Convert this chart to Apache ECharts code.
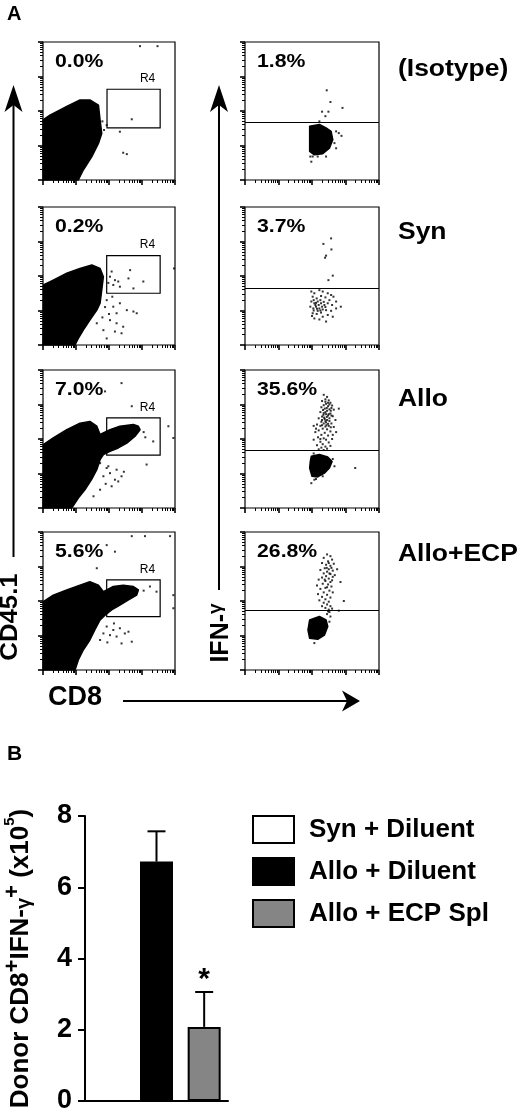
<!DOCTYPE html>
<html><head><meta charset="utf-8">
<script src="https://cdn.jsdelivr.net/npm/echarts@6/dist/echarts.min.js"></script>
<style>html,body{margin:0;padding:0;background:#fff}#c{width:520px;height:1115px}</style>
</head><body><div id="c"></div>
<script>
// ---------- Panel A: flow cytometry (axes in log10 units, 10^0..10^4) ----------
const rowNames = ['(Isotype)', 'Syn', 'Allo', 'Allo+ECP'];
const cd45Pct = ['0.0%', '0.2%', '7.0%', '5.6%'];
const ifnPct = ['1.8%', '3.7%', '35.6%', '26.8%'];
// R4 gate: [xMin, xMax, yMin, yMax]
const gateR4 = [[1.94, 3.55, 1.51, 2.63], [1.93, 3.55, 1.50, 2.59], [1.93, 3.55, 1.53, 2.61], [1.93, 3.55, 1.55, 2.61]];
const ifnCutoff = [1.67, 1.64, 1.66, 1.72];

const isoCd45Blob = [[0,0],[0,1.74],[0.21,1.88],[0.72,2.13],[1.12,2.32],[1.42,2.32],[1.68,2.17],[1.73,1.74],[1.78,1.35],[1.68,1.06],[1.48,0.68],[1.22,0.29],[1.07,0]];
const isoCd45Dots = [[2.94,3.88],[3.47,3.88],[2.69,1.76],[2.33,1.40],[2.43,0.79],[2.54,0.75],[1.93,1.59],[1.80,1.70],[1.85,1.45]];

const synCd45Blob = [[0,0],[0.01,1.74],[0.31,1.88],[0.72,2.08],[1.12,2.22],[1.48,2.32],[1.73,2.22],[1.83,1.98],[1.78,1.59],[1.73,1.21],[1.63,1.01],[1.42,0.72],[1.22,0.43],[1.07,0.19],[0.97,0]];
const synCd45Dots = [[1.93,1.30],[2.13,1.11],[2.23,0.92],[2.33,1.21],[2.54,1.01],[2.74,0.97],[2.84,0.92],[2.03,0.72],[2.23,0.63],[2.43,0.53],[1.83,0.43],[2.18,0.39],[2.38,0.34],[1.93,0.19],[1.63,0.63],[1.88,1.10],[2.00,0.90],[1.80,0.80],[2.10,1.40],
  [2.03,1.98],[2.18,1.88],[2.28,1.84],[2.13,1.74],[2.33,1.69],[2.64,2.17],[2.59,1.93],[2.74,1.64],[3.04,1.84],[2.08,2.13],[1.98,1.80],[3.97,2.22]];

const alloCd45Blob = [[0,0],[0.01,1.84],[0.31,2.03],[0.72,2.27],[1.12,2.46],[1.42,2.51],[1.63,2.37],[1.73,2.13],[2.03,2.27],[2.33,2.37],[2.74,2.42],[2.89,2.37],[2.94,2.27],[2.79,2.08],[2.54,1.88],[2.28,1.74],[2.03,1.64],[1.83,1.55],[1.73,1.40],[1.63,1.11],[1.47,0.82],[1.27,0.53],[1.07,0.29],[0.87,0]];
const alloCd45Dots = [[2.38,3.62],[1.88,3.38],[2.69,2.95],[3.14,1.26],[3.34,1.93],[3.95,2.03],[3.80,2.37],[3.05,2.20],[3.10,2.05],
  [1.73,1.30],[1.93,1.16],[2.03,1.01],[1.83,0.92],[2.18,0.82],[2.08,0.63],[2.28,0.77],[1.73,0.53],[1.53,0.34],[1.98,1.21],[2.23,1.11],[2.38,0.92],[1.90,0.70],[2.45,1.05]];

const ecpCd45Blob = [[0,0],[0.01,1.98],[0.31,2.17],[0.72,2.32],[1.12,2.46],[1.42,2.56],[1.68,2.46],[1.83,2.27],[2.13,2.42],[2.43,2.46],[2.74,2.42],[2.89,2.32],[2.84,2.17],[2.59,2.03],[2.33,1.88],[2.08,1.74],[1.88,1.59],[1.73,1.45],[1.57,1.16],[1.42,0.87],[1.22,0.58],[1.07,0.29],[0.97,0]];
const ecpCd45Dots = [[2.69,3.88],[3.09,3.88],[3.85,3.88],[1.93,3.62],[2.18,3.43],[1.63,2.95],[3.95,2.17],[3.44,2.27],[3.24,2.42],[3.95,1.79],[3.05,2.30],
  [1.93,1.26],[2.13,1.16],[2.33,1.21],[2.48,1.06],[2.59,1.11],[2.23,0.97],[2.03,1.01],[2.69,0.82],[2.38,0.77],[1.83,1.06],[1.73,0.87],[2.15,1.35],[1.95,0.80]];

const isoIfnBlob = [[1.93,1.56],[2.22,1.61],[2.42,1.51],[2.57,1.41],[2.62,1.17],[2.52,0.92],[2.32,0.76],[2.07,0.73],[1.93,0.83]];
const isoIfnDots = [[2.72,1.41],[2.80,1.36],[2.88,1.28],[2.67,1.07],[2.72,0.92],[2.42,0.68],[1.98,0.53],[2.02,0.68],[1.95,0.68],[2.17,0.68],
  [2.44,2.60],[2.55,2.26],[2.91,2.09],[2.30,1.98],[2.49,1.98],[2.40,1.85],[2.22,1.70]];

const synIfnBlob = [];
const synIfnDots = [[2.57,3.09],[2.34,2.93],[2.58,2.77],[2.42,2.59],[2.39,2.53],[2.49,1.88],[2.62,2.01],
  [1.98,1.55],[2.07,1.50],[2.22,1.59],[2.32,1.55],[2.47,1.50],[2.57,1.45],[2.64,1.40],[2.02,1.40],[2.14,1.35],[2.27,1.42],[2.40,1.38],[2.52,1.30],[2.72,1.26],[2.86,1.11],
  [1.98,1.26],[2.07,1.21],[2.17,1.26],[2.27,1.21],[2.37,1.16],[2.47,1.21],[2.60,1.16],[2.72,1.06],[1.95,1.11],[2.04,1.06],[2.12,1.11],[2.22,1.06],[2.32,1.03],[2.42,1.01],[2.57,0.99],
  [2.02,0.92],[2.14,0.90],[2.27,0.94],[2.47,0.87],[2.62,0.82],[2.07,0.77],[2.22,0.74],[2.42,0.68],[2.00,0.84],[2.32,0.82],[2.17,0.99],[2.10,1.16],[2.20,1.16],[2.30,1.11],
  [2.05,1.30],[2.12,1.22],[2.25,1.30],[2.35,1.25],[2.15,1.05],[2.05,1.00],[2.25,1.00],[2.40,1.10]];

const alloIfnBlob = [[1.98,1.50],[2.22,1.55],[2.47,1.48],[2.60,1.35],[2.52,1.16],[2.37,1.01],[2.17,0.90],[2.00,0.92],[1.93,1.16],[1.95,1.35]];
const alloIfnDots = [[1.98,0.72],[2.07,0.82],[2.67,1.21],[3.29,1.16],[2.12,0.84],[2.32,0.92],[2.62,1.42],[2.05,1.58],
  [2.35,3.28],[2.45,3.22],[2.40,3.15],[2.50,3.12],[2.30,3.10],[2.55,3.05],[2.42,3.02],[2.35,2.98],[2.48,2.95],[2.60,2.97],[2.28,2.92],[2.38,2.88],[2.52,2.86],[2.45,2.82],[2.65,2.85],[2.80,2.88],
  [2.25,2.78],[2.35,2.75],[2.42,2.72],[2.55,2.74],[2.48,2.68],[2.30,2.65],[2.62,2.66],[2.20,2.60],[2.38,2.58],[2.45,2.55],[2.52,2.60],[2.70,2.55],[2.28,2.50],[2.35,2.45],[2.42,2.48],[2.58,2.45],
  [2.15,2.42],[2.25,2.38],[2.40,2.36],[2.50,2.38],[2.65,2.35],[2.05,2.38],[2.32,2.30],[2.45,2.28],[2.20,2.25],[2.55,2.22],[2.10,2.20],[2.38,2.18],[2.28,2.12],[2.48,2.10],[2.62,2.12],
  [2.18,2.05],[2.35,2.02],[2.42,1.98],[2.05,1.98],[2.25,1.92],[2.50,1.90],[2.32,1.85],[2.15,1.82],[2.40,1.78],[2.28,1.75],[2.45,1.72],[2.20,1.70],[2.35,1.68],[2.55,1.80],[2.60,2.00],
  [2.72,2.20],[2.12,2.30],[2.30,2.55],[2.58,2.90],[2.48,3.05],[2.36,2.62],[2.43,2.40],[2.25,2.00],
  [2.40,3.08],[2.52,3.00],[2.44,2.90],[2.33,2.84],[2.56,2.82],[2.40,2.78],[2.50,2.72],[2.58,2.68],[2.44,2.64],[2.34,2.70],[2.52,2.52],[2.40,2.52],[2.48,2.44],[2.30,2.40],[2.56,2.34]];

const ecpIfnBlob = [[1.93,1.45],[2.22,1.55],[2.42,1.45],[2.47,1.26],[2.37,1.01],[2.17,0.89],[1.93,0.92],[1.88,1.16]];
const ecpIfnDots = [[2.07,0.78],[2.52,1.40],[2.55,1.55],[2.45,1.62],
  [2.45,3.35],[2.55,3.30],[2.35,3.25],[2.60,3.20],[2.48,3.15],[2.30,3.10],[2.42,3.05],[2.55,3.02],[2.65,3.08],[2.38,2.95],[2.50,2.92],[2.25,2.90],[2.62,2.88],[2.45,2.85],[2.75,2.92],
  [2.35,2.80],[2.55,2.78],[2.42,2.72],[2.68,2.75],[2.30,2.68],[2.50,2.65],[2.20,2.62],[2.60,2.60],[2.40,2.58],[2.85,2.55],[2.32,2.50],[2.48,2.48],[2.15,2.45],[2.58,2.42],[2.40,2.38],
  [2.25,2.35],[2.52,2.30],[2.35,2.25],[2.62,2.25],[2.18,2.20],[2.45,2.18],[2.30,2.12],[2.55,2.10],[2.40,2.05],[2.22,2.02],[2.50,1.98],[2.35,1.95],[2.45,1.90],[2.55,1.85],[2.40,1.80],
  [2.50,1.75],[2.60,1.78],[2.95,2.00],[2.80,1.72],[2.30,1.85],[2.48,1.70],[2.52,1.68],
  [2.50,3.10],[2.58,2.96],[2.44,2.96],[2.52,2.80],[2.62,2.70],[2.38,2.62],[2.55,2.55],[2.45,2.40]];

// ---------- Panel B: bar chart ----------
const barGroups = ['Syn + Diluent', 'Allo + Diluent', 'Allo + ECP Spl'];
const barMeans = [0, 6.72, 2.08];
const barErrors = [0, 0.85, 0.98];
const barSignif = ['', '', '*'];
const barColors = ['#ffffff', '#000000', '#858585'];
const barYTicks = [0, 2, 4, 6, 8];

// ---------- layout ----------
const FONT = '"Liberation Sans", Arial, Helvetica, sans-serif';
const LEFT_X = 43, LEFT_W = 132, RIGHT_X = 245, RIGHT_W = 134;
const ROW_TOPS = [42, 207, 370, 532], ROW_H = 138;

const decadeTicks = [0, 1, 2, 3, 4];
const minorTicks = [];
for (let d = 0; d < 4; d++) for (let k = 2; k <= 9; k++) minorTicks.push(d + Math.log10(k));

const plots = [
  {row:0, col:0, blob:isoCd45Blob, dots:isoCd45Dots, gate:gateR4[0], pct:cd45Pct[0]},
  {row:0, col:1, blob:isoIfnBlob, dots:isoIfnDots, cut:ifnCutoff[0], pct:ifnPct[0]},
  {row:1, col:0, blob:synCd45Blob, dots:synCd45Dots, gate:gateR4[1], pct:cd45Pct[1]},
  {row:1, col:1, blob:synIfnBlob, dots:synIfnDots, cut:ifnCutoff[1], pct:ifnPct[1]},
  {row:2, col:0, blob:alloCd45Blob, dots:alloCd45Dots, gate:gateR4[2], pct:cd45Pct[2]},
  {row:2, col:1, blob:alloIfnBlob, dots:alloIfnDots, cut:ifnCutoff[2], pct:ifnPct[2]},
  {row:3, col:0, blob:ecpCd45Blob, dots:ecpCd45Dots, gate:gateR4[3], pct:cd45Pct[3]},
  {row:3, col:1, blob:ecpIfnBlob, dots:ecpIfnDots, cut:ifnCutoff[3], pct:ifnPct[3]}
];

const grids = [], xAxes = [], yAxes = [], series = [], graphics = [];

function txt(text, x, y, size, opts) {
  opts = opts || {};
  return {
    type: 'text', x: x, y: y, rotation: opts.rotation || 0,
    scaleX: opts.scaleX || 1, scaleY: 1, silent: true,
    style: {
      text: text, fill: '#000', fontSize: size, fontWeight: 'bold', fontFamily: FONT,
      align: opts.align || 'left', verticalAlign: 'middle',
      textAlign: opts.align || 'left', textVerticalAlign: 'middle',
      rich: opts.rich
    }
  };
}

plots.forEach((p, g) => {
  const left = p.col === 0 ? LEFT_X : RIGHT_X;
  const width = p.col === 0 ? LEFT_W : RIGHT_W;
  const top = ROW_TOPS[p.row];
  grids.push({left: left, top: top, width: width, height: ROW_H, show: true,
    borderColor: '#000', borderWidth: 1.2, backgroundColor: 'transparent'});
  [minorTicks, decadeTicks].forEach((vals, k) => {
    const tick = {show: true, length: k ? 5 : 3, lineStyle: {color: '#000', width: k ? 1.6 : 1}, customValues: vals};
    const base = {gridIndex: g, type: 'value', min: 0, max: 4, axisLine: {show: false},
      axisLabel: {show: false}, splitLine: {show: false}, axisTick: tick};
    xAxes.push(Object.assign({position: 'bottom'}, base));
    yAxes.push(Object.assign({position: 'left'}, base));
  });
  const ax = 2 * g;
  if (p.blob.length) {
    const verts = p.blob;
    // one item; the whole outline (in data units) is projected through the axes
    series.push({
      type: 'custom', xAxisIndex: ax, yAxisIndex: ax, data: [verts[0]], silent: true, clip: false,
      renderItem: function (params, api) {
        const pts = verts.map(v => { const c = api.coord([v[0], v[1]]); return [c[0], c[1]]; });
        return {type: 'polygon', shape: {points: pts},
          style: {fill: '#000', stroke: '#000', lineWidth: 1.5, lineJoin: 'round'}};
      }
    });
  }
  const sc = {type: 'scatter', xAxisIndex: ax, yAxisIndex: ax, data: p.dots, symbol: 'rect',
    symbolSize: 2, itemStyle: {color: '#000'}, silent: true, clip: true};
  if (p.gate) {
    sc.markArea = {silent: true,
      itemStyle: {color: 'rgba(0,0,0,0)', borderColor: '#000', borderWidth: 1.2},
      label: {show: true, position: 'top', offset: [14, 1], color: '#000', fontSize: 12, fontFamily: FONT},
      data: [[{name: 'R4', xAxis: p.gate[0], yAxis: p.gate[3]}, {xAxis: p.gate[1], yAxis: p.gate[2]}]]};
  }
  if (p.cut != null) {
    sc.markLine = {silent: true, symbol: ['none', 'none'], animation: false,
      lineStyle: {color: '#000', width: 1, type: 'solid'}, label: {show: false},
      data: [{yAxis: p.cut}]};
  }
  series.push(sc);
  graphics.push(txt(p.pct, left + 12, top + 20, 18, {scaleX: 1.18}));
});

// row labels
const rowLabelY = [70, 233, 400, 555];
rowNames.forEach((n, i) => graphics.push(txt(n, 398, rowLabelY[i], 23, {scaleX: 1.15})));
// panel letters
graphics.push(txt('A', 7, 14, 20));
graphics.push(txt('B', 7, 754, 21));
// axis titles for panel A
graphics.push(txt('CD45.1', 11, 617, 23, {rotation: Math.PI / 2, align: 'center', scaleX: 1.12}));
graphics.push(txt('{a|IFN-}{b|γ}', 220, 633, 25, {rotation: Math.PI / 2, align: 'center', rich: {
  a: {fontSize: 25, fontWeight: 'bold', fontFamily: FONT, fill: '#000', color: '#000', lineHeight: 28, verticalAlign: 'bottom'},
  b: {fontSize: 19, fontWeight: 'bold', fontFamily: FONT, fill: '#000', color: '#000', lineHeight: 28, verticalAlign: 'top'}}}));
graphics.push(txt('CD8', 48, 698, 27));
// arrows
function vArrow(x, yTop, yBottom) {
  return [
    {type: 'line', silent: true, shape: {x1: x, y1: yBottom, x2: x, y2: yTop + 18}, style: {stroke: '#000', lineWidth: 2}},
    {type: 'polygon', silent: true, shape: {points: [[x, yTop], [x - 9, yTop + 27], [x, yTop + 20], [x + 9, yTop + 27]]}, style: {fill: '#000'}}
  ];
}
graphics.push(...vArrow(13.5, 85, 557));
graphics.push(...vArrow(219, 85, 590));
graphics.push({type: 'line', silent: true, shape: {x1: 123, y1: 701, x2: 350, y2: 701}, style: {stroke: '#000', lineWidth: 2}});
graphics.push({type: 'polygon', silent: true, shape: {points: [[360, 701], [342, 690.5], [347, 701], [342, 711.5]]}, style: {fill: '#000'}});

// ---------- bar chart grid ----------
const bg = grids.length;
grids.push({left: 85, top: 816, width: 143, height: 285, show: false});
xAxes.push({gridIndex: bg, type: 'category', data: barGroups, position: 'bottom', axisLabel: {show: false}, axisTick: {show: false},
  axisLine: {show: true, lineStyle: {color: '#000', width: 2}}, splitLine: {show: false}});
yAxes.push({gridIndex: bg, type: 'value', min: 0, max: 8, interval: 2, position: 'left',
  axisLine: {show: true, lineStyle: {color: '#000', width: 2}},
  axisTick: {show: true, length: 7, lineStyle: {color: '#000', width: 2}},
  axisLabel: {show: true, margin: 13, color: '#000', fontSize: 27, fontWeight: 'bold', fontFamily: FONT,
    customValues: barYTicks},
  splitLine: {show: false},
  name: '{m|Donor CD8}{s|+}{m|IFN-}{g|γ}{s|+}{m| (x10}{t|5}{m|)}',
  nameLocation: 'middle', nameRotate: 90, nameGap: 51,
  nameTextStyle: {rich: {
    m: {fontSize: 26, fontWeight: 'bold', fontFamily: FONT, color: '#000', lineHeight: 32, verticalAlign: 'bottom'},
    g: {fontSize: 20, fontWeight: 'bold', fontFamily: FONT, color: '#000', lineHeight: 32, verticalAlign: 'bottom'},
    s: {fontSize: 22, fontWeight: 'bold', fontFamily: FONT, color: '#000', lineHeight: 32, verticalAlign: 'top'},
    t: {fontSize: 15, fontWeight: 'bold', fontFamily: FONT, color: '#000', lineHeight: 32, verticalAlign: 'top'}
  }}
});
const bAx = xAxes.length - 1;
barGroups.forEach((name, i) => {
  series.push({
    type: 'bar', name: name, xAxisIndex: bAx, yAxisIndex: bAx,
    data: barMeans.map((v, j) => j === i ? v : '-'),
    barWidth: 33, barGap: '-100%',
    itemStyle: {color: barColors[i], borderColor: '#000', borderWidth: 2},
    silent: true
  });
});
series.push({
  type: 'custom', xAxisIndex: bAx, yAxisIndex: bAx, silent: true, z: 5,
  data: barMeans.map((m, i) => [i, m, barErrors[i]]),
  encode: {x: 0, y: 1},
  renderItem: function (params, api) {
    const i = api.value(0), m = api.value(1), e = api.value(2);
    if (!(e > 0)) return null;
    const base = api.coord([i, m]);
    const tp = api.coord([i, m + e]);
    const children = [
      {type: 'line', shape: {x1: base[0], y1: base[1], x2: tp[0], y2: tp[1]}, style: {stroke: '#000', lineWidth: 2}},
      {type: 'line', shape: {x1: tp[0] - 9, y1: tp[1], x2: tp[0] + 9, y2: tp[1]}, style: {stroke: '#000', lineWidth: 2}}
    ];
    const sig = barSignif[params.dataIndex];
    if (sig) children.push({type: 'text', x: tp[0], y: tp[1] - 12,
      style: {text: sig, fill: '#000', fontSize: 30, fontWeight: 'bold', fontFamily: FONT,
        align: 'center', verticalAlign: 'middle', textAlign: 'center', textVerticalAlign: 'middle'}});
    return {type: 'group', children: children};
  }
});

const chart = echarts.init(document.getElementById('c'), null, {renderer: 'canvas', width: 520, height: 1115});
chart.setOption({
  animation: false,
  backgroundColor: '#fff',
  grid: grids, xAxis: xAxes, yAxis: yAxes, series: series,
  legend: {data: barGroups, orient: 'vertical', left: 252, top: 815, padding: 0,
    itemWidth: 41, itemHeight: 27, itemGap: 13, icon: 'rect', selectedMode: false,
    textStyle: {fontSize: 26, fontWeight: 'bold', color: '#000', fontFamily: FONT, padding: [0, 0, 0, 10]}},
  graphic: graphics
});
</script></body></html>
